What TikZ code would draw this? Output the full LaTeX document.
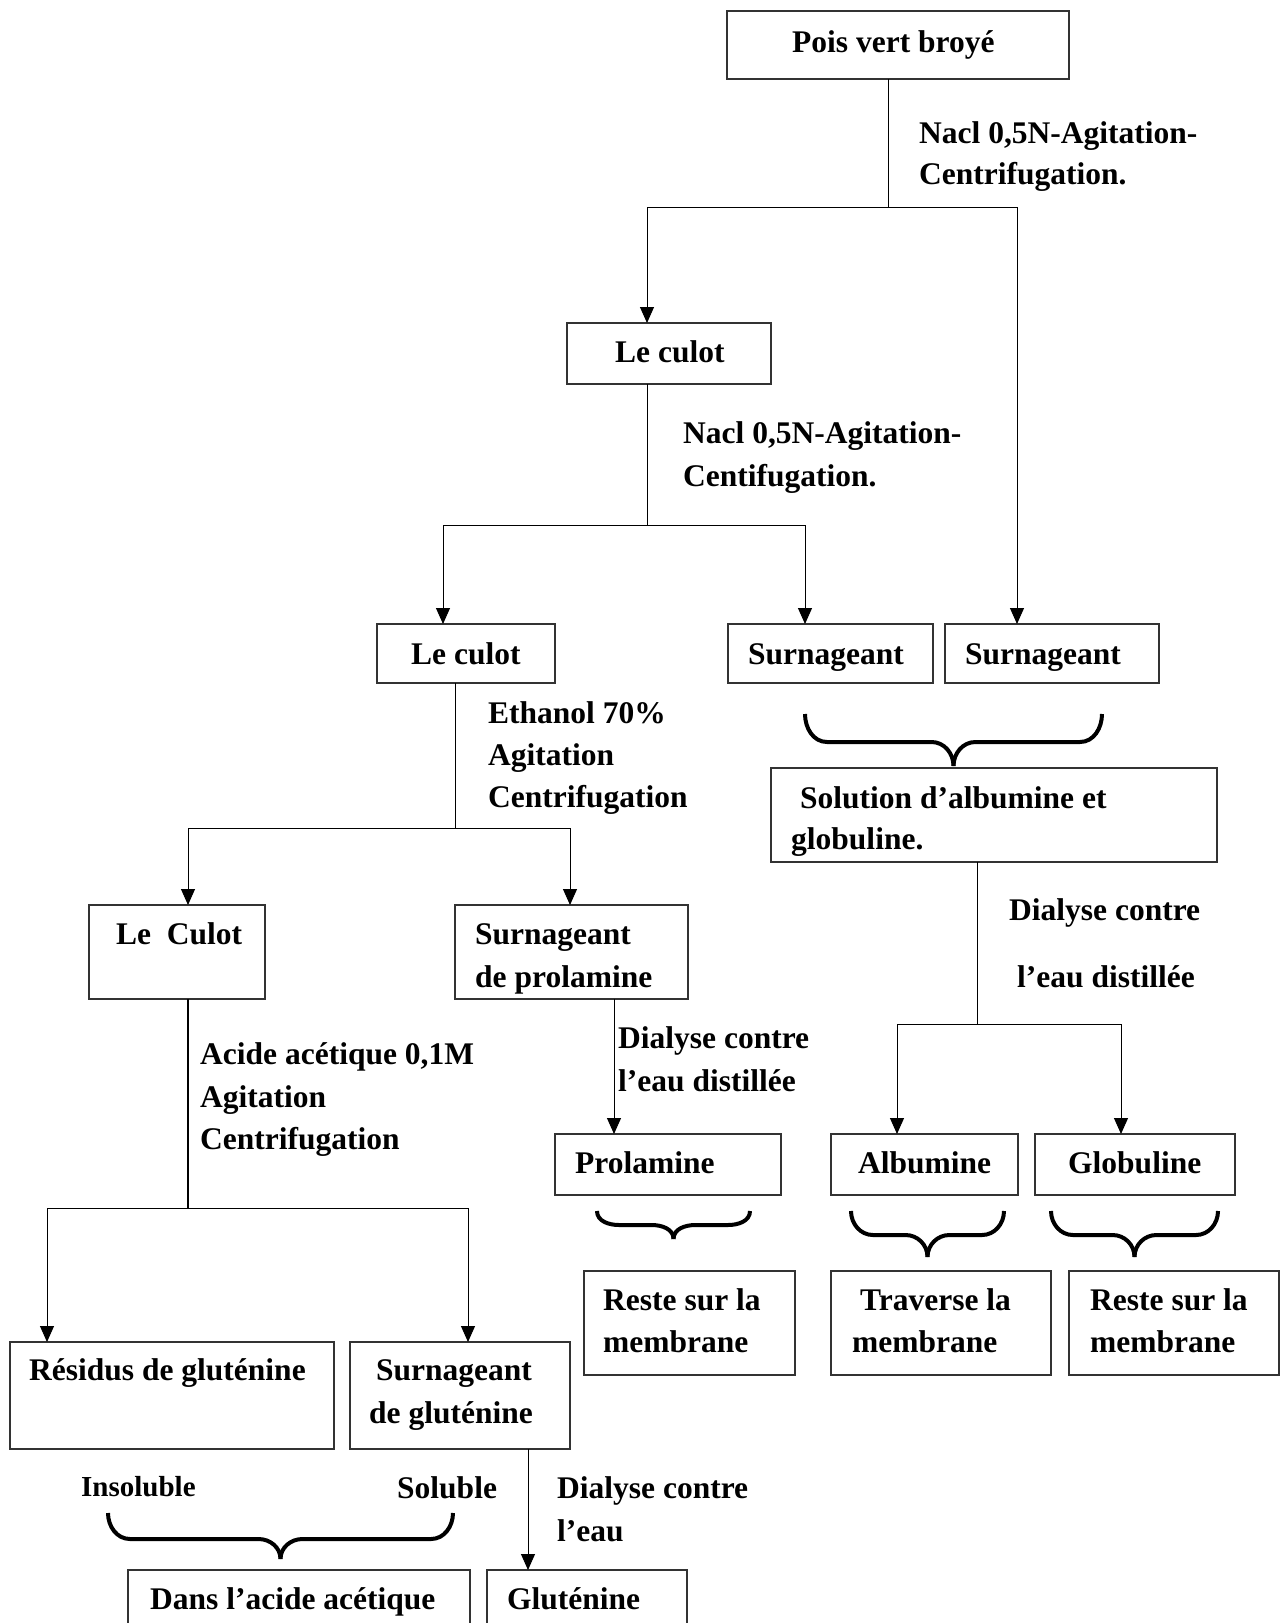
\documentclass[tikz,border=0pt]{standalone}
\usepackage{fontspec}
\setmainfont{Liberation Serif}
\usetikzlibrary{arrows.meta}
\newcommand\drawbrace[5]{% L R T B h
  \pgfmathsetmacro\bm{(#1+#2)/2}
  \draw[br] (#1,#3) to[out=-90,in=180] (#1+22,#5) -- (\bm-22,#5) to[out=0,in=90] (\bm,#4);
  \draw[br] (#2,#3) to[out=-90,in=0] (#2-22,#5) -- (\bm+22,#5) to[out=180,in=90] (\bm,#4);
}
\begin{document}
\begin{tikzpicture}[x=1pt,y=-1pt,
  box/.style 2 args={draw=black!80,line width=1.3pt,anchor=north west,inner sep=0pt,outer sep=0pt,minimum width=#1,minimum height=#2},
  t/.style={anchor=base west,inner sep=0pt,font=\fontsize{31.5}{38}\selectfont\bfseries},
  ts/.style={anchor=base west,inner sep=0pt,font=\fontsize{29}{35}\selectfont\bfseries},
  ln/.style={line width=1pt},
  arr/.style={line width=1pt,-{Triangle[width=14pt,length=16pt]}},
  br/.style={line width=4pt,line join=round}]
\useasboundingbox[fill=white] (0,0) rectangle (1280,1623);

% boxes
\node[box={342pt}{68pt}] (pois) at (727,11) {};
\node[box={204pt}{61pt}] (culot1) at (567,323) {};
\node[box={178pt}{59pt}] (culot2) at (377,624) {};
\node[box={205pt}{59pt}] (surn1) at (728,624) {};
\node[box={214pt}{59pt}] (surn2) at (945,624) {};
\node[box={446pt}{94pt}] (sol) at (771,768) {};
\node[box={176pt}{94pt}] (culot3) at (89,905) {};
\node[box={233pt}{94pt}] (surnprol) at (455,905) {};
\node[box={226pt}{61pt}] (prol) at (555,1134) {};
\node[box={187pt}{61pt}] (alb) at (831,1134) {};
\node[box={200pt}{61pt}] (glob) at (1035,1134) {};
\node[box={211pt}{104pt}] (reste1) at (584,1271) {};
\node[box={220pt}{104pt}] (trav) at (831,1271) {};
\node[box={210pt}{104pt}] (reste2) at (1069,1271) {};
\node[box={324pt}{107pt}] (resid) at (10,1342) {};
\node[box={220pt}{107pt}] (surnglu) at (350,1342) {};
\node[box={342pt}{70pt}] (dans) at (128,1570) {};
\node[box={200pt}{70pt}] (glut) at (487,1570) {};

% texts in boxes
\node[t] (tpois) at (792,52) {Pois vert broyé};
\node[t] (tculot1) at (615,362) {Le culot};
\node[t] (tculot2) at (411,664) {Le culot};
\node[t] (tsurn1) at (748,664) {Surnageant};
\node[t] (tsurn2) at (965,664) {Surnageant};
\node[t] (tsola) at (800,808) {Solution d’albumine et};
\node[t] (tsolb) at (791,849) {globuline.};
\node[t] (tculot3) at (116,944) {Le~ Culot};
\node[t] (tsprola) at (475,944) {Surnageant};
\node[t] (tsprolb) at (475,987) {de prolamine};
\node[t] (tprol) at (575,1173) {Prolamine};
\node[t] (talb) at (858,1173) {Albumine};
\node[t] (tglob) at (1068,1173) {Globuline};
\node[t] (tr1a) at (603,1310) {Reste sur la};
\node[t] (tr1b) at (603,1352) {membrane};
\node[t] (ttra) at (860,1310) {Traverse la};
\node[t] (ttrb) at (852,1352) {membrane};
\node[t] (tr2a) at (1090,1310) {Reste sur la};
\node[t] (tr2b) at (1090,1352) {membrane};
\node[t] (tresid) at (29,1380) {Résidus de gluténine};
\node[t] (tsga) at (376,1380) {Surnageant};
\node[t] (tsgb) at (369,1423) {de gluténine};
\node[t] (tdans) at (150,1609) {Dans l’acide acétique};
\node[t] (tglut) at (507,1609) {Gluténine};

% labels
\node[t] (l1a) at (919,143) {Nacl 0,5N-Agitation-};
\node[t] (l1b) at (919,184) {Centrifugation.};
\node[t] (l2a) at (683,443) {Nacl 0,5N-Agitation-};
\node[t] (l2b) at (683,486) {Centifugation.};
\node[t] (l3a) at (488,723) {Ethanol 70\%};
\node[t] (l3b) at (488,765) {Agitation};
\node[t] (l3c) at (488,807) {Centrifugation};
\node[t] (l4a) at (1009,920) {Dialyse contre};
\node[t] (l4b) at (1017,987) {l’eau distillée};
\node[t] (l5a) at (200,1064) {Acide acétique 0,1M};
\node[t] (l5b) at (200,1107) {Agitation};
\node[t] (l5c) at (200,1149) {Centrifugation};
\node[t] (l6a) at (618,1048) {Dialyse contre};
\node[t] (l6b) at (618,1091) {l’eau distillée};
\node[ts] (lins) at (81,1496) {Insoluble};
\node[t] (lsol) at (397,1498) {Soluble};
\node[t] (l7a) at (557,1498) {Dialyse contre};
\node[t] (l7b) at (557,1541) {l’eau};

% connectors
\coordinate (j1) at (888,207);
\coordinate (k1) at (647,207);
\coordinate (k2) at (1017,207);
\draw[ln] (pois.south -| j1) -- (j1);
\draw[ln] (k1) -- (k2);
\draw[arr] (k1) -- (k1 |- culot1.north);
\draw[arr] (k2) -- (k2 |- surn2.north);

\coordinate (j2) at (647,525);
\coordinate (k3) at (443,525);
\coordinate (k4) at (805,525);
\draw[ln] (culot1.south -| j2) -- (j2);
\draw[ln] (k3) -- (k4);
\draw[arr] (k3) -- (k3 |- culot2.north);
\draw[arr] (k4) -- (k4 |- surn1.north);

\coordinate (j3) at (455,828);
\coordinate (k5) at (188,828);
\coordinate (k6) at (570,828);
\draw[ln] (culot2.south -| j3) -- (j3);
\draw[ln] (k5) -- (k6);
\draw[arr] (k5) -- (k5 |- culot3.north);
\draw[arr] (k6) -- (k6 |- surnprol.north);

\coordinate (j4) at (188,1208);
\coordinate (k7) at (47,1208);
\coordinate (k8) at (468,1208);
\draw[line width=2.5pt] (culot3.south -| j4) -- (j4);
\draw[ln] (k7) -- (k8);
\draw[arr] (k7) -- (k7 |- resid.north);
\draw[arr] (k8) -- (k8 |- surnglu.north);

\coordinate (k9) at (614,999);
\draw[arr] (k9) -- (k9 |- prol.north);

\coordinate (j5) at (977,1024);
\coordinate (k10) at (897,1024);
\coordinate (k11) at (1121,1024);
\draw[ln] (sol.south -| j5) -- (j5);
\draw[ln] (k10) -- (k11);
\draw[arr] (k10) -- (k10 |- alb.north);
\draw[arr] (k11) -- (k11 |- glob.north);

\coordinate (k12) at (528,1449);
\draw[arr] (k12) -- (k12 |- glut.north);

% braces
\drawbrace{805}{1102}{714}{766}{742}
\drawbrace{597}{750}{1211}{1239}{1225}
\drawbrace{851}{1004}{1211}{1257}{1235}
\drawbrace{1051}{1218}{1211}{1257}{1235}
\drawbrace{108}{453}{1513}{1559}{1539}
\end{tikzpicture}
\end{document}
